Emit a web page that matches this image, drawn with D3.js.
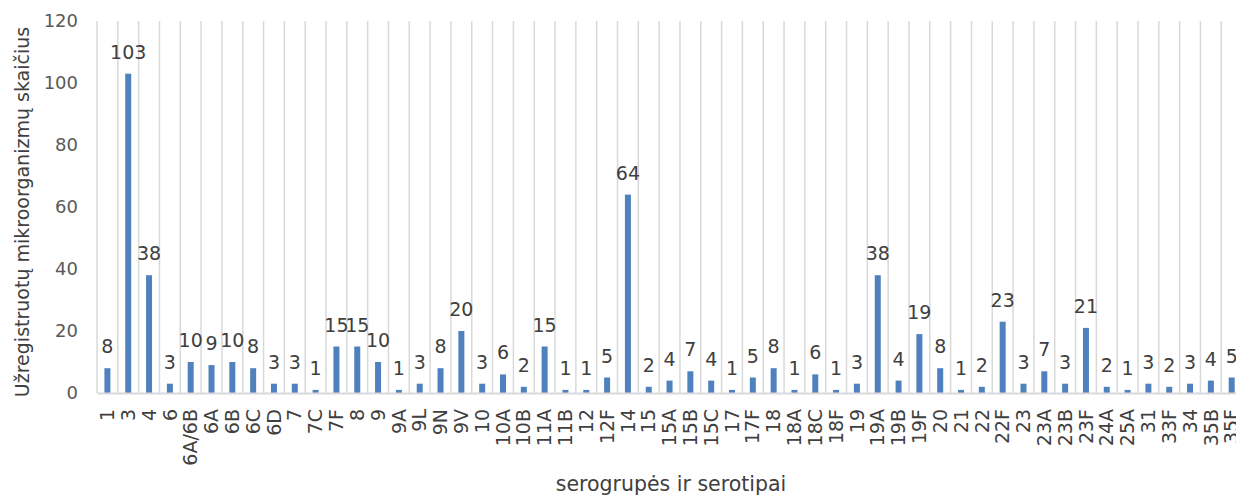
<!DOCTYPE html>
<html>
<head>
<meta charset="utf-8">
<script src="https://cdn.jsdelivr.net/npm/d3@7"></script>
<style>
body { margin: 0; background: #fff; overflow: hidden; }
text { font-family: "DejaVu Sans", sans-serif; }
</style>
</head>
<body>
<script>
var w = 1236, h = 497;

var categories = ["1", "3", "4", "6", "6A/6B", "6A", "6B", "6C", "6D", "7", "7C", "7F", "8", "9", "9A", "9L", "9N", "9V",
	"10", "10A", "10B", "11A", "11B", "12", "12F", "14", "15", "15A", "15B", "15C", "17", "17F", "18", "18A", "18C", "18F",
	"19", "19A", "19B", "19F", "20", "21", "22", "22F", "23", "23A", "23B", "23F", "24A", "25A", "31", "33F", "34", "35B", "35F"];
var counts = [8, 103, 38, 3, 10, 9, 10, 8, 3, 3, 1, 15, 15, 10, 1, 3, 8, 20,
	3, 6, 2, 15, 1, 1, 5, 64, 2, 4, 7, 4, 1, 5, 8, 1, 6, 1,
	3, 38, 4, 19, 8, 1, 2, 23, 3, 7, 3, 21, 2, 1, 3, 2, 3, 4, 5];
var yTicks = [0, 20, 40, 60, 80, 100, 120];

var plotLeft = 97, plotTop = 21, plotBottom = 393, step = 20.82;
var barW = 6;

var svg = d3.select("body")
		.append("svg")
		.attr("width", w)
		.attr("height", h);

var x = d3.scaleBand()
		.domain(categories)
		.range([plotLeft, plotLeft + step * categories.length])
		.padding(0);

var y = d3.scaleLinear()
		.domain([0, 120])
		.range([plotBottom, plotTop]);

// vertical gridlines at category edges
var edges = categories.map(function(c) { return x(c); });
edges.push(x(categories[categories.length - 1]) + x.bandwidth());
svg.append("g")
	.selectAll("line")
	.data(edges)
	.enter()
	.append("line")
	.attr("x1", function(d) { return d; })
	.attr("x2", function(d) { return d; })
	.attr("y1", plotTop)
	.attr("y2", plotBottom)
	.attr("stroke", "#d9d9d9")
	.attr("stroke-width", 1.5);

// y axis labels
var yAxis = svg.append("g")
		.attr("transform", "translate(" + (plotLeft - 19) + ",0)")
		.call(d3.axisLeft(y).tickValues(yTicks).tickSize(0).tickPadding(0));
yAxis.select(".domain").remove();
yAxis.selectAll("text")
	.attr("font-size", 18)
	.attr("fill", "#595959")
	.style("font-family", "DejaVu Sans");

// bars
svg.append("g")
	.selectAll("rect")
	.data(counts)
	.enter()
	.append("rect")
	.attr("x", function(d, i) { return x(categories[i]) + x.bandwidth() / 2 - barW / 2; })
	.attr("y", function(d) { return y(d); })
	.attr("width", barW)
	.attr("height", function(d) { return plotBottom - y(d); })
	.attr("fill", "#4f81bd");

// data labels
svg.append("g")
	.selectAll("text")
	.data(counts)
	.enter()
	.append("text")
	.attr("x", function(d, i) { return x(categories[i]) + x.bandwidth() / 2; })
	.attr("y", function(d) { return y(d) - 15; })
	.attr("text-anchor", "middle")
	.attr("font-size", 19)
	.attr("fill", "#404040")
	.text(function(d) { return d; });

// x axis
var xAxis = svg.append("g")
		.attr("transform", "translate(0," + plotBottom + ")")
		.call(d3.axisBottom(x).tickSize(0).tickPadding(0));
xAxis.select(".domain")
	.attr("stroke", "#d9d9d9")
	.attr("stroke-width", 2);
xAxis.selectAll("text")
	.attr("transform", "translate(0,16) rotate(-90)")
	.attr("x", 0)
	.attr("y", 0)
	.attr("dy", "0.35em")
	.attr("text-anchor", "end")
	.attr("font-size", 19)
	.attr("fill", "#404040")
	.style("font-family", "DejaVu Sans");

// axis titles
svg.append("text")
	.attr("transform", "translate(29,212) rotate(-90)")
	.attr("text-anchor", "middle")
	.attr("font-size", 19)
	.attr("fill", "#404040")
	.text("Užregistruotų mikroorganizmų skaičius");

svg.append("text")
	.attr("x", 671)
	.attr("y", 491)
	.attr("text-anchor", "middle")
	.attr("font-size", 20.5)
	.attr("fill", "#404040")
	.text("serogrupės ir serotipai");
</script>
</body>
</html>
